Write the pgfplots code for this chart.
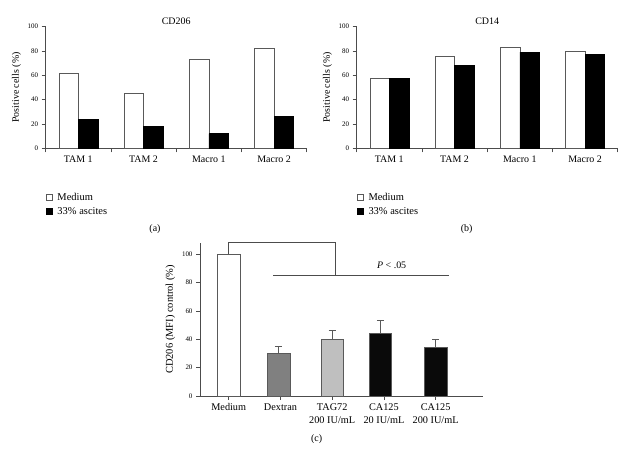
\documentclass[border=0pt]{standalone}
\usepackage{fontspec}
\setmainfont{Liberation Serif}
\usepackage{pgfplots}
\pgfplotsset{compat=1.18}
\begin{document}
\begin{tikzpicture}[x=1bp,y=1bp]
\useasboundingbox (0,0) rectangle (643,453);
\pgfplotsset{
  common/.style={
    scale only axis,
    axis x line*=bottom, axis y line*=left,
    axis line style={black!70, line width=0.6pt},
    tick align=outside, major tick length=4bp, minor tick length=4bp,
    tick style={black!70, line width=0.6pt},
    /pgf/number format/assume math mode=true,
    yticklabel style={font=\fontsize{7}{8}\selectfont},
    xticklabel style={font=\fontsize{10}{12}\selectfont},
    ylabel style={font=\fontsize{10}{12}\selectfont},
  },
  sq/.style={legend image code/.code={\draw[##1, line width=0.6pt] (0bp,-3bp) rectangle (6bp,3bp);}},
  panel/.style={
    common,
    width=261bp, height=121.6bp,
    ymin=0, ymax=100, ytick={0,20,...,100},
    xmin=-0.5, xmax=3.5,
    xtick={0,1,2,3}, xticklabels={TAM 1,TAM 2,Macro 1,Macro 2},
    minor xtick={-0.5,0.5,1.5,2.5,3.5},
    major x tick style={draw=none},
    ylabel={Positive cells (\%)},
    legend style={draw=none, fill=none, at={(0.0,-0.35)}, anchor=north west,
      font=\fontsize{10.5}{12}\selectfont, row sep=1.5bp, inner sep=0pt,
      nodes={inner xsep=5bp}},
    legend cell align=left,
    ybar=0pt, bar width=19.5bp, clip=false,
  },
  eb/.style={error bars/.cd, y dir=plus, y explicit,
    error bar style={black!65, line width=0.6pt},
    error mark=-, error mark options={black!65, mark size=3.5bp, line width=0.6pt, rotate=90}},
}
% (a)
\begin{axis}[panel, at={(45.7bp,304.7bp)}, anchor=south west]
\addplot[sq, fill=white, draw=black!65] coordinates {(0,62) (1,45) (2,73.5) (3,82)};
\addplot[sq, fill=black, draw=black] coordinates {(0,24) (1,18) (2,12) (3,26)};
\legend{Medium, 33\% ascites}
\node[font=\fontsize{10}{12}\selectfont, anchor=center] at (rel axis cs:0.5,1.045) {CD206};
\end{axis}
% (b)
\begin{axis}[panel, at={(356.7bp,304.7bp)}, anchor=south west]
\addplot[sq, fill=white, draw=black!65] coordinates {(0,57.5) (1,76) (2,83.5) (3,80)};
\addplot[sq, fill=black, draw=black] coordinates {(0,57.5) (1,68) (2,79) (3,77.5)};
\legend{Medium, 33\% ascites}
\node[font=\fontsize{10}{12}\selectfont, anchor=center] at (rel axis cs:0.5,1.045) {CD14};
\end{axis}
% (c)
\begin{axis}[common, at={(200bp,57bp)}, anchor=south west,
  width=282.7bp, height=153.3bp,
  ymin=0, ymax=108, ytick={0,20,...,100},
  xmin=-0.555, xmax=4.91,
  xtick={0,1,2,3,4},
  xticklabels={Medium, Dextran, TAG72\\200 IU/mL, CA125\\20 IU/mL, CA125\\200 IU/mL},
  xticklabel style={align=center, font=\fontsize{10.3}{13.3}\selectfont},
  ylabel={CD206 (MFI) control (\%)},
  ylabel style={font=\fontsize{10.5}{12}\selectfont},
  clip=false]
\addplot[ybar, bar width=22.7bp, bar shift=0pt, fill=white, draw=black!65] coordinates {(0,100)};
\addplot[ybar, bar width=22.7bp, bar shift=0pt, fill=black!50, draw=black!65, eb]
  coordinates {(0.96,30) +- (0,4.7)};
\addplot[ybar, bar width=22.7bp, bar shift=0pt, fill=black!25, draw=black!65, eb]
  coordinates {(2,40) +- (0,6.3)};
\addplot[ybar, bar width=22.7bp, bar shift=0pt, fill=black!96, draw=black!65, eb]
  coordinates {(2.93,44.3) +- (0,8.7)};
\addplot[ybar, bar width=22.7bp, bar shift=0pt, fill=black!96, draw=black!65, eb]
  coordinates {(4,34.7) +- (0,5.3)};
\addplot[sharp plot, mark=none, black!70, line width=0.6pt] coordinates {(0,100) (0,108) (2.07,108) (2.07,85)};
\addplot[sharp plot, mark=none, black!70, line width=0.6pt] coordinates {(0.863,85) (4.25,85)};
\node[font=\fontsize{10}{12}\selectfont] at (axis cs:3.15,92) {\textit{P} < .05};
\end{axis}
\node[font=\fontsize{10}{12}\selectfont] at (155,224) {(a)};
\node[font=\fontsize{10}{12}\selectfont] at (466.7,224) {(b)};
\node[font=\fontsize{10}{12}\selectfont] at (316.7,14) {(c)};
\end{tikzpicture}
\end{document}
